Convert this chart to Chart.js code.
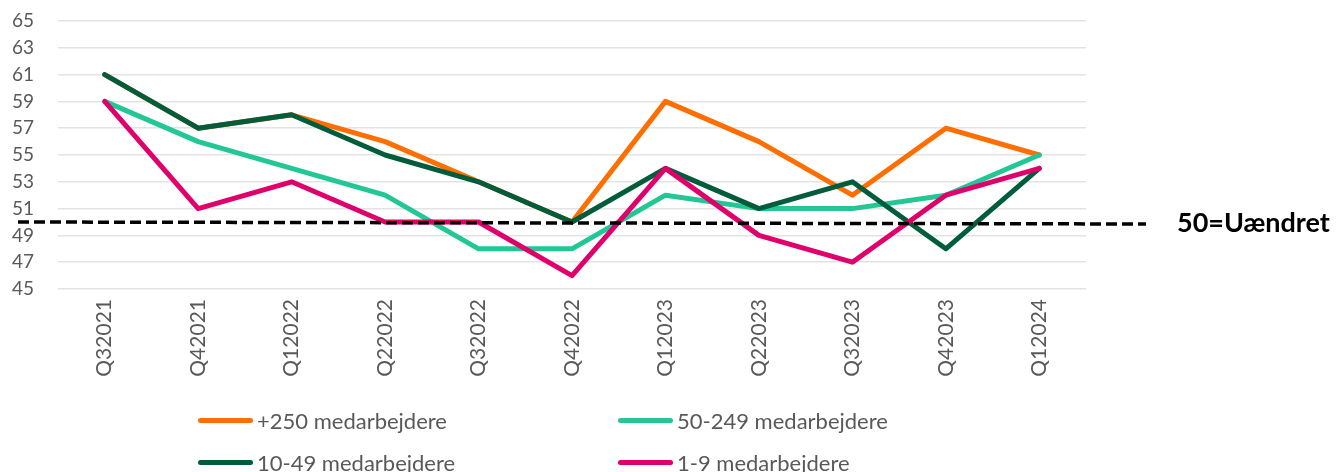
<!DOCTYPE html>
<html>
<head>
<meta charset="utf-8">
<script src="https://cdn.jsdelivr.net/npm/chart.js@4"></script>
<style>
  body { margin: 0; background: #fff; }
  #wrap { position: relative; width: 1336px; height: 472px; overflow: hidden; }
  #legend { position: absolute; left: 0; top: 0; width: 1336px; height: 472px; pointer-events: none;
            font-family: Lato, "Open Sans", sans-serif; font-size: 22px; color: #595959; }
  .item { position: absolute; display: flex; align-items: center; white-space: nowrap; }
  .item span.line { display: inline-block; width: 55px; height: 5px; border-radius: 3px; margin-right: 4px; }
</style>
</head>
<body>
<div id="wrap">
  <canvas id="myChart" width="1336" height="472"></canvas>
  <div id="legend"></div>
</div>
<script>
// kategorier og serier
const kvartaler = ["Q32021", "Q42021", "Q12022", "Q22022", "Q32022", "Q42022",
                   "Q12023", "Q22023", "Q32023", "Q42023", "Q12024"];
const stor = [61, 57, 58, 56, 53, 50, 59, 56, 52, 57, 55];      // +250
const mellem = [59, 56, 54, 52, 48, 48, 52, 51, 51, 52, 55];    // 50-249
const lille = [61, 57, 58, 55, 53, 50, 54, 51, 53, 48, 54];     // 10-49
const mikro = [59, 51, 53, 50, 50, 46, 54, 49, 47, 52, 54];     // 1-9
const yTicks = [45, 47, 49, 51, 53, 55, 57, 59, 61, 63, 65];
const nulLinje = 50;

const serier = [
    { label: "+250 medarbejdere", data: stor, color: "#FF6E00" },
    { label: "50-249 medarbejdere", data: mellem, color: "#22C795" },
    { label: "10-49 medarbejdere", data: lille, color: "#005C3B" },
    { label: "1-9 medarbejdere", data: mikro, color: "#E0006C" }
];

// stiplet linje ved 50 + tekst
const uaendretPlugin = {
    id: 'uaendret',
    afterDatasetsDraw(chart) {
        const ctx = chart.ctx;
        const y = chart.scales.y.getPixelForValue(nulLinje);
        ctx.save();
        ctx.strokeStyle = '#000';
        ctx.lineWidth = 3.5;
        ctx.setLineDash([11, 5]);
        ctx.beginPath();
        ctx.moveTo(18, y);
        ctx.lineTo(1146, y + 2);
        ctx.stroke();
        ctx.setLineDash([]);
        ctx.fillStyle = '#000';
        ctx.font = 'bold 27px Lato, "Open Sans", sans-serif';
        ctx.textBaseline = 'middle';
        ctx.fillText('50=Uændret', 1177, y + 1);
        ctx.restore();
    }
};

let mychart = document.getElementById("myChart").getContext("2d");

var chart = new Chart(mychart, {
    type: "line",
    data: {
        labels: kvartaler,
        datasets: serier.map((s, i) => ({
            label: s.label,
            data: s.data,
            borderColor: s.color,
            backgroundColor: s.color,
            borderWidth: 5,
            pointRadius: 0,
            tension: 0,
            borderJoinStyle: 'round',
            borderCapStyle: 'round',
            order: serier.length - i   // senere serier ligger øverst
        }))
    },
    options: {
        responsive: false,
        animation: false,
        layout: { padding: { left: 0, right: 250, top: 21, bottom: 0 } },
        scales: {
            x: {
                offset: true,
                grid: { display: false, drawTicks: false },
                border: { display: false },
                ticks: {
                    minRotation: 90, maxRotation: 90, padding: 10,
                    color: '#595959',
                    font: { family: 'Lato, "Open Sans", sans-serif', size: 21 }
                },
                afterFit: (scale) => { scale.height = 472 - 289; }
            },
            y: {
                min: 45, max: 65,
                afterBuildTicks: (scale) => { scale.ticks = yTicks.map(v => ({ value: v })); },
                grid: { color: '#e3e3e3', lineWidth: 1.5, drawTicks: false },
                border: { display: false },
                ticks: {
                    autoSkip: false,
                    padding: 24,
                    color: '#595959',
                    font: { family: 'Lato, "Open Sans", sans-serif', size: 19 }
                },
                // fast bredde, og ingen ekstra luft over/under akse
                afterFit: (scale) => {
                    scale.width = 58;
                    scale.paddingTop = 0;
                    scale.paddingBottom = 0;
                }
            }
        },
        plugins: {
            legend: { display: false },
            tooltip: { enabled: false }
        }
    },
    plugins: [uaendretPlugin]
});

// legende i to rækker
const pos = [[198, 421], [618, 421], [198, 463], [618, 463]];
const legend = document.getElementById('legend');
serier.forEach((s, i) => {
    const d = document.createElement('div');
    d.className = 'item';
    d.style.left = pos[i][0] + 'px';
    d.style.top = (pos[i][1] - 14) + 'px';
    d.innerHTML = '<span class="line" style="background:' + s.color + '"></span>' + s.label;
    legend.appendChild(d);
});
</script>
</body>
</html>
